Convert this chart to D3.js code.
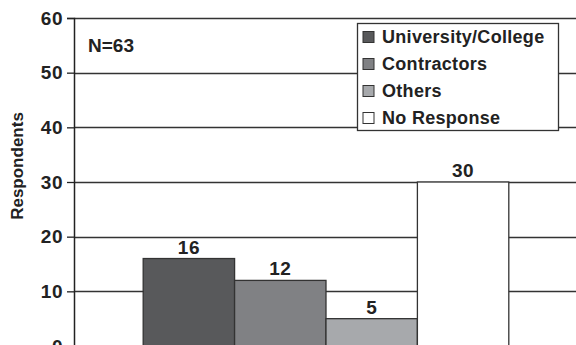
<!DOCTYPE html>
<html>
<head>
<meta charset="utf-8">
<script src="https://cdn.jsdelivr.net/npm/d3@7"></script>
<style>
  body { margin: 0; background: #fff; }
  svg { display: block; font-family: Arial, "Liberation Sans", Helvetica, sans-serif; font-weight: bold; }
</style>
</head>
<body>
<div id="chart"></div>
<script>
const categories = ["University/College", "Contractors", "Others", "No Response"];
const values = [16, 12, 5, 30];
const colors = ["#58595b", "#808184", "#a7a9ac", "#ffffff"];
const yTicks = [0, 10, 20, 30, 40, 50, 60];

let margin = {top: 18, right: -3, bottom: -1, left: 74},
  width = 576,
  height = 345,
  innerWidth = width - margin.left - margin.right,
  innerHeight = height - margin.top - margin.bottom;

const svg = d3.select("#chart").append("svg")
    .attr("width", width)
    .attr("height", height);

const g = svg.append("g")
    .attr("transform", "translate(" + margin.left + "," + margin.top + ")");

const yScale = d3.scaleLinear()
    .domain([0, 60])
    .range([innerHeight, 0]);

// bars sit together in one group in the middle of the plot
const xScale = d3.scaleBand()
    .domain(categories)
    .range([innerWidth * 0.137, innerWidth * 0.861])
    .padding(0);

// gridlines
g.selectAll(".grid")
  .data(yTicks.filter(d => d > 0))
  .enter().append("line")
    .attr("class", "grid")
    .attr("x1", 0)
    .attr("x2", innerWidth)
    .attr("y1", d => Math.round(yScale(d)) + 0.5)
    .attr("y2", d => Math.round(yScale(d)) + 0.5)
    .attr("stroke", "#333")
    .attr("stroke-width", 1.3);

// y axis
const yAxis = g.append("g")
    .attr("class", "y axis")
    .call(d3.axisLeft(yScale).tickValues(yTicks).tickSize(7).tickPadding(4));
yAxis.select(".domain").attr("stroke", "#222").attr("stroke-width", 1.5);
yAxis.selectAll(".tick line").attr("stroke", "#222").attr("stroke-width", 1.3);
yAxis.selectAll(".tick text")
    .attr("fill", "#222")
    .style("font-size", "19px")
    .style("font-weight", "bold")
    .style("letter-spacing", "0.5px")
    .style("font-family", "Arial, 'Liberation Sans', sans-serif");

svg.append("text")
    .attr("transform", "translate(23,166) rotate(-90)")
    .attr("text-anchor", "middle")
    .attr("fill", "#222")
    .style("font-size", "17px")
    .text("Respondents");

// bars
g.selectAll(".bar")
  .data(values)
  .enter().append("rect")
    .attr("class", "bar")
    .attr("x", (d, i) => xScale(categories[i]))
    .attr("y", d => yScale(d))
    .attr("width", xScale.bandwidth())
    .attr("height", d => innerHeight - yScale(d))
    .attr("fill", (d, i) => colors[i])
    .attr("stroke", "#333")
    .attr("stroke-width", 1.3);

// value labels
g.selectAll(".label")
  .data(values)
  .enter().append("text")
    .attr("class", "label")
    .attr("x", (d, i) => xScale(categories[i]) + xScale.bandwidth() / 2)
    .attr("y", d => yScale(d) - 5)
    .attr("text-anchor", "middle")
    .attr("fill", "#222")
    .style("font-size", "19px")
    .style("letter-spacing", "0.5px")
    .text(d => d);

// N label
svg.append("text")
    .attr("x", 88)
    .attr("y", 52)
    .attr("fill", "#222")
    .style("font-size", "19px")
    .text("N=63");

// legend
const legend = svg.append("g").attr("transform", "translate(357,23)");
legend.append("rect")
    .attr("x", 0.5).attr("y", 0.5)
    .attr("width", 201).attr("height", 107)
    .attr("fill", "#fff")
    .attr("stroke", "#333")
    .attr("stroke-width", 1.3);

const items = legend.selectAll(".item")
  .data(categories)
  .enter().append("g")
    .attr("class", "item")
    .attr("transform", (d, i) => "translate(6," + (14 + i * 27) + ")");

items.append("rect")
    .attr("x", 0).attr("y", -5.5)
    .attr("width", 11).attr("height", 11)
    .attr("fill", (d, i) => colors[i])
    .attr("stroke", "#333")
    .attr("stroke-width", 1);

items.append("text")
    .attr("x", 19)
    .attr("y", 0)
    .attr("dy", "0.36em")
    .attr("fill", "#222")
    .style("font-size", "18px")
    .style("letter-spacing", "0.3px")
    .text(d => d);
</script>
</body>
</html>
